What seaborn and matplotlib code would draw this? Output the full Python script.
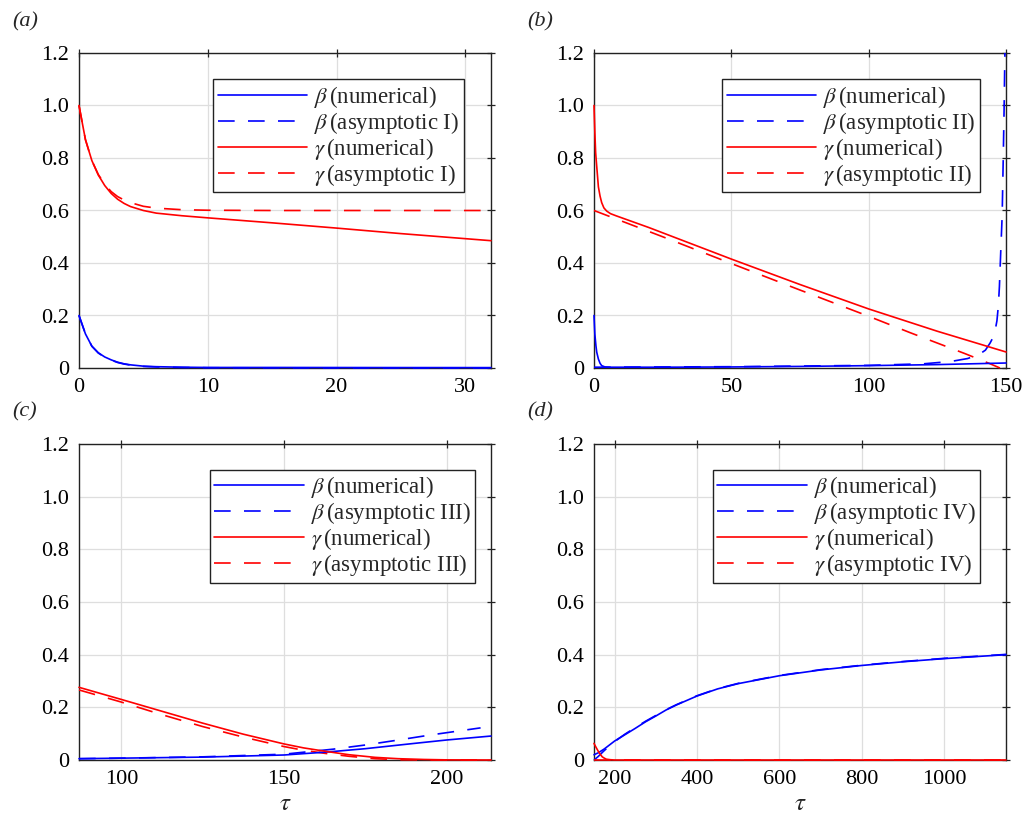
import matplotlib
matplotlib.use("Agg")
import matplotlib.pyplot as plt
import seaborn as sns
import numpy as np

# ---- panel (a) ----
tau_a = [0, 0.5, 1, 1.5, 2, 2.5, 3, 3.5, 4, 5, 6, 8, 10, 15, 20, 25, 32]
beta_a_num = [0.2, 0.13, 0.083, 0.058, 0.042, 0.031, 0.022, 0.016, 0.012, 0.007, 0.005, 0.003, 0.002, 0.002, 0.0018, 0.0016, 0.0015]
beta_a_asym = [0.2, 0.13, 0.083, 0.057, 0.041, 0.030, 0.021, 0.015, 0.011, 0.006, 0.004, 0.002, 0.001, 0.0005, 0.0002, 0.0001, 0.0]
gamma_a_num = [1.0, 0.87, 0.79, 0.735, 0.695, 0.665, 0.643, 0.627, 0.615, 0.600, 0.590, 0.580, 0.572, 0.553, 0.533, 0.512, 0.485]
gamma_a_asym = [1.0, 0.87, 0.79, 0.737, 0.70, 0.672, 0.653, 0.64, 0.63, 0.616, 0.609, 0.603, 0.601, 0.6, 0.6, 0.6, 0.6]

# ---- panel (b) ----
tau_b_bn = [0, 0.3, 0.7, 1, 1.6, 2.2, 2.8, 4, 6, 10, 25, 50, 75, 100, 125, 150]
beta_b_num = [0.2, 0.13, 0.085, 0.06, 0.034, 0.018, 0.009, 0.004, 0.003, 0.003, 0.003, 0.004, 0.006, 0.009, 0.013, 0.019]
tau_b_ba = [0, 50, 100, 120, 130, 136, 140, 142.5, 144.2, 145.2, 146, 146.7, 147.2, 147.6, 148.0, 148.6, 149.0, 149.3, 149.6]
beta_b_asym = [0.003, 0.005, 0.01, 0.016, 0.025, 0.036, 0.05, 0.068, 0.095, 0.115, 0.14, 0.18, 0.235, 0.31, 0.42, 0.58, 0.8, 0.98, 1.2]
tau_b_gn = [0, 0.3, 0.6, 1, 1.6, 2.2, 2.8, 3.6, 4.6, 6, 8, 12, 20, 35, 50, 75, 100, 125, 150]
gamma_b_num = [1.0, 0.9, 0.82, 0.767, 0.69, 0.655, 0.63, 0.61, 0.598, 0.588, 0.58, 0.565, 0.535, 0.475, 0.415, 0.318, 0.225, 0.14, 0.061]
tau_b_ga = [0, 25, 50, 75, 100, 115, 128, 135, 140, 144, 147.8]
gamma_b_asym = [0.6, 0.5, 0.398, 0.297, 0.197, 0.135, 0.083, 0.055, 0.034, 0.017, 0.0]

# ---- panel (c) ----
tau_c_g = [87, 100, 112.5, 125, 137.5, 150, 156, 162.7, 170, 178, 185, 193, 200, 213.6]
gamma_c_num = [0.276, 0.23, 0.185, 0.14, 0.098, 0.061, 0.046, 0.033, 0.02, 0.01, 0.005, 0.002, 0.0005, 0.0]
gamma_c_asym = [0.266, 0.22, 0.172, 0.127, 0.087, 0.051, 0.037, 0.025, 0.014, 0.005, 0.001, 0.0, 0.0, 0.0]
tau_c_bn = [87, 100, 125, 150, 163, 175, 190, 200, 213.6]
beta_c_num = [0.005, 0.007, 0.011, 0.019, 0.03, 0.043, 0.063, 0.076, 0.091]
tau_c_ba = [87, 100, 125, 150, 165, 175, 183.6, 195, 210.4]
beta_c_asym = [0.005, 0.007, 0.012, 0.022, 0.041, 0.057, 0.073, 0.095, 0.122]

# ---- panel (d) ----
tau_d = [150, 160, 175, 200, 225, 250, 275, 300, 325, 350, 400, 450, 500, 600, 700, 800, 900, 1000, 1150]
beta_d_num = [0.02, 0.027, 0.042, 0.072, 0.096, 0.12, 0.145, 0.167, 0.19, 0.209, 0.243, 0.27, 0.29, 0.32, 0.342, 0.359, 0.373, 0.385, 0.4]
beta_d_asym = [0.0, 0.013, 0.036, 0.07, 0.098, 0.123, 0.147, 0.169, 0.191, 0.21, 0.244, 0.271, 0.291, 0.321, 0.343, 0.36, 0.374, 0.386, 0.401]
tau_d_g = [150, 155, 160, 165, 170, 175, 180, 190, 200, 1150]
gamma_d_num = [0.063, 0.048, 0.034, 0.022, 0.012, 0.007, 0.003, 0.001, 0.0, 0.0]
tau_d_ga = [150, 1150]
gamma_d_asym = [0.0, 0.0]

sns.set_style("white")
plt.rcParams['font.family'] = ['Liberation Serif', 'DejaVu Serif']
plt.rcParams['mathtext.fontset'] = 'stix'

DASH = (0, (10, 8))
LW = 1.2

fig = plt.figure(figsize=(10.25, 8.13), dpi=100)
W, H = 1025, 813

def axbox(x0, x1, y0, y1):
    return [x0 / W, 1 - y1 / H, (x1 - x0) / W, (y1 - y0) / H]

panels = [
    dict(box=axbox(79, 491, 53, 368), xlim=(0, 32), xt=[0, 10, 20, 30], tag='a', roman='I',
         bn=(tau_a, beta_a_num), ba=(tau_a, beta_a_asym), gn=(tau_a, gamma_a_num), ga=(tau_a, gamma_a_asym),
         leg=(0.934, 0.917)),
    dict(box=axbox(594, 1006, 53, 368), xlim=(0, 150), xt=[0, 50, 100, 150], tag='b', roman='II',
         bn=(tau_b_bn, beta_b_num), ba=(tau_b_ba, beta_b_asym), gn=(tau_b_gn, gamma_b_num), ga=(tau_b_ga, gamma_b_asym),
         leg=(0.937, 0.917)),
    dict(box=axbox(79, 491, 444, 760), xlim=(87, 213.6), xt=[100, 150, 200], tag='c', roman='III',
         bn=(tau_c_bn, beta_c_num), ba=(tau_c_ba, beta_c_asym), gn=(tau_c_g, gamma_c_num), ga=(tau_c_g, gamma_c_asym),
         leg=(0.961, 0.918)),
    dict(box=axbox(594, 1006, 444, 760), xlim=(150, 1150), xt=[200, 400, 600, 800, 1000], tag='d', roman='IV',
         bn=(tau_d, beta_d_num), ba=(tau_d, beta_d_asym), gn=(tau_d_g, gamma_d_num), ga=(tau_d_ga, gamma_d_asym),
         leg=(0.937, 0.918)),
]

for p in panels:
    ax = fig.add_axes(p['box'])
    r = p['roman']
    # asymptotic drawn below the numerical curves
    sns.lineplot(x=p['bn'][0], y=p['bn'][1], ax=ax, color='blue', lw=LW, label=r'$\beta\,$(numerical)',
                 zorder=4, clip_on=False)
    sns.lineplot(x=p['ba'][0], y=p['ba'][1], ax=ax, color='blue', lw=LW, linestyle=DASH,
                 label=r'$\beta\,$(asymptotic %s)' % r, zorder=3, clip_on=False)
    sns.lineplot(x=p['gn'][0], y=p['gn'][1], ax=ax, color='red', lw=LW, label=r'$\gamma\,$(numerical)',
                 zorder=4, clip_on=False)
    sns.lineplot(x=p['ga'][0], y=p['ga'][1], ax=ax, color='red', lw=LW, linestyle=DASH,
                 label=r'$\gamma\,$(asymptotic %s)' % r, zorder=3, clip_on=False)
    ax.set_xlim(*p['xlim'])
    ax.set_ylim(0, 1.2)
    ax.set_xticks(p['xt'])
    ax.set_yticks([0, 0.2, 0.4, 0.6, 0.8, 1.0, 1.2])
    ax.set_yticklabels(['0', '0.2', '0.4', '0.6', '0.8', '1.0', '1.2'])
    ax.grid(True, color='#dedede', lw=0.9)
    ax.tick_params(direction='inout', length=6, width=0.9, labelsize=16, top=True, right=True,
                   colors='#222222', labelcolor='black', pad=4)
    for s in ax.spines.values():
        s.set_color('#222222')
        s.set_linewidth(1.0)
    leg = ax.legend(loc='upper right', bbox_to_anchor=p['leg'], fontsize=16.5, handlelength=3.9,
                    labelspacing=0.0, borderpad=0.2, handletextpad=0.3, borderaxespad=0,
                    fancybox=False, framealpha=1, edgecolor='#222222')
    leg.get_frame().set_linewidth(1.0)
    leg.set_zorder(6)
    ax.set_xlabel('')
    ax.set_ylabel('')
    if p['tag'] in ('c', 'd'):
        ax.set_xlabel(r'$\tau$', fontsize=18, labelpad=3)

fig.text(12 / W, 1 - 22 / H, '(a)', fontsize=16, style='italic', va='center')
fig.text(527 / W, 1 - 22 / H, '(b)', fontsize=16, style='italic', va='center')
fig.text(12 / W, 1 - 412 / H, '(c)', fontsize=16, style='italic', va='center')
fig.text(527 / W, 1 - 412 / H, '(d)', fontsize=16, style='italic', va='center')

fig.savefig('out.png', dpi=100)
